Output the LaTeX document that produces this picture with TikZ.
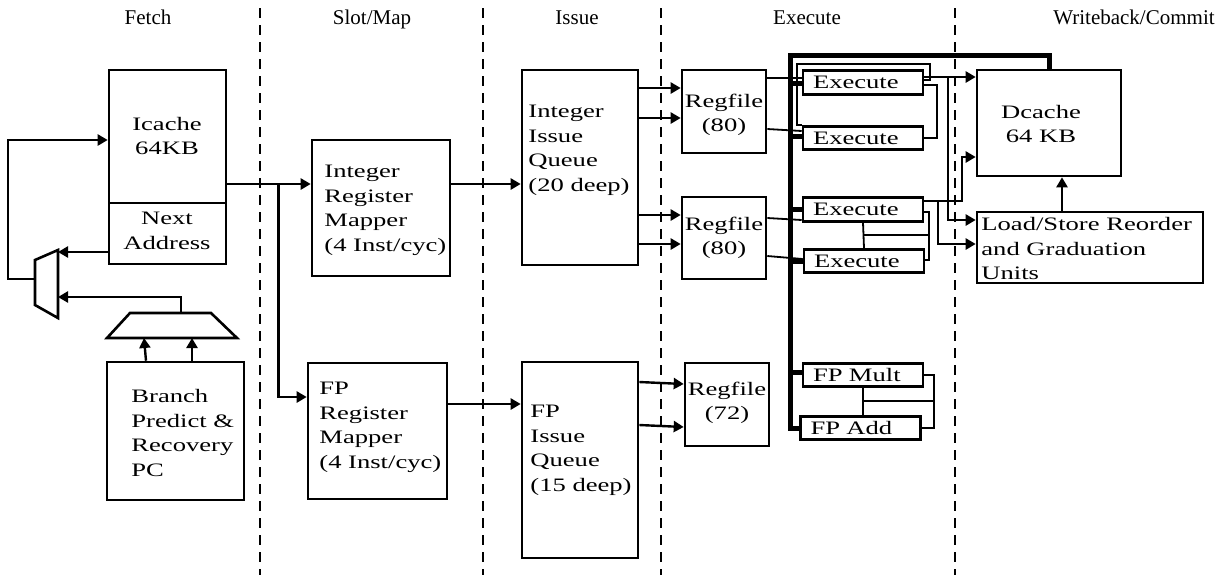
\documentclass[tikz,border=0pt]{standalone}
\usepackage{fontspec}
\setmainfont{Liberation Serif}[FakeStretch=1.4]
\newfontfamily\stagefont{Liberation Serif}
\usetikzlibrary{arrows.meta,fit,positioning}
\newcommand{\boxsize}{\fontsize{9.5}{12.25}\selectfont}

\begin{document}
\begin{tikzpicture}[x=0.5pt,y=-0.5pt,
  blk/.style={draw,line width=1.3pt,inner sep=0pt},
  exbox/.style={draw,line width=1.3pt,inner xsep=5pt,inner ysep=0pt,text width=50pt,minimum height=11.75pt,align=left,font=\boxsize},
  txt/.style={inner sep=0pt,align=left,font=\boxsize},
  ctxt/.style={inner sep=0pt,align=center,font=\boxsize},
  arr/.style={line width=1.2pt,-{Triangle[length=5pt,width=5.5pt]}},
  wire/.style={line width=0.9pt},
  bus/.style={line width=2.5pt},
  stage/.style={dashed,line width=1pt,dash pattern=on 5pt off 3.5pt},
  lbl/.style={inner sep=0pt,anchor=base,font=\stagefont\fontsize{10.5}{12}\selectfont}]
  \useasboundingbox (0,0) rectangle (1215,575);

  \foreach \x in {260,483,661,955} {
    \draw[stage] (\x,8) -- (\x,575);
  }
  \node[lbl] (sfetch) at (148,24) {Fetch};
  \node[lbl] (smap) at (372,24) {Slot/Map};
  \node[lbl] (sissue) at (577,24) {Issue};
  \node[lbl] (sexec) at (807,24) {Execute};
  \node[lbl] (scommit) at (1134,24) {Writeback/Commit};

  % fetch
  \node[blk,fit={(109,70) (226,203)}] (icache) {};
  \node[blk,fit={(109,203) (226,264)}] (nextaddr) {};
  \node[ctxt] (icachetxt) at (167,136) {Icache\\64KB};
  \node[ctxt] (nexttxt) at (167,231) {Next\\Address};
  \node[blk,fit={(107,362) (244,500)}] (branch) {};
  \node[txt,anchor=north west] (branchtxt) at (131,389) {Branch\\Predict \&\\Recovery\\PC};
  \draw[blk] (35,260) coordinate (muxtl) -- (58,250) coordinate (muxtr) -- (58,318) -- (35,305) -- cycle;
  \draw[blk] (130,313) coordinate (addtl) -- (211,313) -- (237,338) -- (107,338) coordinate (addbl) -- cycle;
  \draw[arr] (nextaddr.west |- 0,252) -- (muxtr |- 0,252);
  \draw[arr] (muxtl |- 0,279) -- (8,279) |- (icache.west |- 0,140);
  \draw[arr] (addtl -| 181,0) |- (muxtr |- 0,297);
  \draw[arr] (branch.north -| 146,0) -- (addbl -| 144,0);
  \draw[arr] (branch.north -| 192,0) -- (addbl -| 192,0);

  % slot/map
  \node[blk,fit={(312,140) (450,276)}] (intmap) {};
  \node[txt,anchor=north west] (intmaptxt) at (324,165) {Integer\\Register\\Mapper\\(4 Inst/cyc)};
  \node[blk,fit={(308,363) (447,499)}] (fpmap) {};
  \node[txt,anchor=north west] (fpmaptxt) at (319,382) {FP\\Register\\Mapper\\(4 Inst/cyc)};
  \draw[arr] (icache.east |- 0,184) -- (intmap.west |- 0,184);
  \draw[arr] (icache.east |- 0,184) ++(51,0) |- (fpmap.west |- 0,397);

  % issue
  \node[blk,fit={(522,70) (638,265)}] (intiq) {};
  \node[txt,anchor=north west] (intiqtxt) at (528,105) {Integer\\Issue\\Queue\\(20 deep)};
  \node[blk,fit={(522,362) (638,558)}] (fpiq) {};
  \node[txt,anchor=north west] (fpiqtxt) at (530,405) {FP\\Issue\\Queue\\(15 deep)};
  \draw[arr] (intmap.east |- 0,184) -- (intiq.west |- 0,184);
  \draw[arr] (fpmap.east |- 0,404) -- (fpiq.west |- 0,404);

  % register files
  \node[blk,fit={(682,70) (766,153)}] (rf1) {};
  \node[ctxt] (rf1txt) at (724,115) {Regfile\\(80)};
  \node[blk,fit={(682,197) (766,279)}] (rf2) {};
  \node[ctxt] (rf2txt) at (724,238) {Regfile\\(80)};
  \node[blk,fit={(685,363) (769,446)}] (rf3) {};
  \node[ctxt] (rf3txt) at (727,403) {Regfile\\(72)};
  \draw[arr] (intiq.east |- 0,88) -- (rf1.west |- 0,88);
  \draw[arr] (intiq.east |- 0,118) -- (rf1.west |- 0,118);
  \draw[arr] (intiq.east |- 0,215) -- (rf2.west |- 0,215);
  \draw[arr] (intiq.east |- 0,244) -- (rf2.west |- 0,244);
  \draw[arr] (fpiq.east |- 0,382) -- (rf3.west |- 0,384);
  \draw[arr] (fpiq.east |- 0,425) -- (rf3.west |- 0,427);

  % execute
  \node[exbox] (ex1) at (863,82.5) {Execute};
  \node[exbox] (ex2) at (863,138) {Execute};
  \node[exbox] (ex3) at (863,209.5) {Execute};
  \node[exbox] (ex4) at (864,261) {Execute};
  \node[exbox] (fpmul) at (863,375) {FP Mult};
  \node[exbox] (fpadd) at (860.5,428) {FP Add};
  \draw[wire] (rf1.east |- 0,78) -- (ex1.west |- 0,78);
  \draw[wire] (rf1.east |- 0,129) -- (ex2.west |- 0,131);
  \draw[wire] (rf2.east |- 0,218) -- (ex3.west |- 0,220);
  \draw[wire] (rf2.east |- 0,256) -- (ex4.west |- 0,259);
  \coordinate (bus) at (790,0);
  \draw[bus] (fpadd.west) -| (bus |- 0,55) -| (1049,70);
  \foreach \n/\y in {ex1/83,ex2/136,ex3/209,ex4/261,fpmul/372} {
    \draw[bus] (bus |- 0,\y) -- (\n.west |- 0,\y);
  }
  \draw[wire] (ex2.north west) -- ++(-5,0) |- (930,64) |- (ex1.east |- 0,80);
  \draw[wire] (ex1.east |- 0,85) -| ([xshift=6.5pt]ex2.east) -- (ex2.east);
  \draw[wire] (ex3.east |- 0,212) -| (929,260) -- (ex4.east |- 0,260);
  \draw[wire] (ex3.south) -- (ex4.north);
  \draw[wire] (ex3.south |- 0,235) -- (929,235);
  \draw[wire] (fpmul.east) -| ([xshift=6pt]fpadd.east) -- (fpadd.east);
  \draw[wire] (fpmul.south) -- (fpmul.south |- fpadd.north);
  \draw[wire] (fpmul.south |- 0,401) -- ([xshift=6pt]fpadd.east |- 0,401);

  % writeback/commit
  \node[blk,fit={(977,70) (1121,176)}] (dcache) {};
  \node[ctxt] (dcachetxt) at (1041,124) {Dcache\\64 KB};
  \node[blk,fit={(977,212) (1203,283)}] (lsq) {};
  \node[txt,anchor=north west] (lsqtxt) at (981,217) {Load/Store Reorder\\and Graduation\\Units};
  \coordinate (j1) at (948,77);
  \coordinate (j2) at (938,201);
  \draw[arr] (ex1.east |- 0,77) -- (dcache.west |- 0,77);
  \draw[arr] (ex3.east |- 0,201) -| (962,157) -- (dcache.west |- 0,157);
  \draw[arr] (j1) |- (lsq.west |- 0,220);
  \draw[arr] (j2) |- (lsq.west |- 0,244);
  \draw[arr] (lsq.north -| 1062,0) -- (dcache.south -| 1062,0);
\end{tikzpicture}
\end{document}
